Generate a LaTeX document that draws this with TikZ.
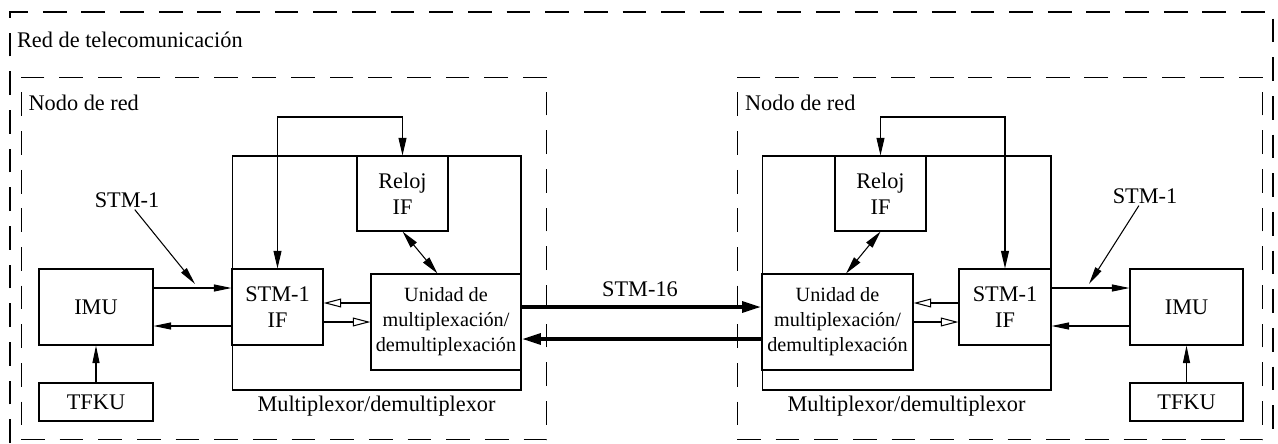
\documentclass[tikz,border=0pt]{standalone}
\usepackage{fontspec}
\setmainfont{Liberation Serif}
\usetikzlibrary{positioning}
\usetikzlibrary{arrows.meta}
\tikzset{
    boxn/.style = {rectangle, draw=black, line width=0.6pt, align=center, inner sep=0pt, font=\fontsize{12.7}{15}\selectfont},
    boxu/.style = {boxn, font=\fontsize{11.5}{14.2}\selectfont},
    txt/.style = {inner sep=1pt, font=\fontsize{12.7}{15}\selectfont},
    dframe/.style = {draw=black, line width=0.6pt, dash pattern=on 13.5pt off 8.5pt, inner sep=0pt},
    edgen/.style = {-{Triangle[length=10pt,width=4pt]}, line width=0.6pt},
    edged/.style = {{Triangle[length=10pt,width=4.5pt]}-{Triangle[length=10pt,width=4.5pt]}, line width=0.6pt},
    edgeo/.style = {-{Triangle[open,length=10pt,width=5pt]}, line width=0.6pt}, % mux <-> IF
    edget/.style = {-{Triangle[length=11pt,width=6pt]}, line width=2.3pt}, % STM-16
}

\begin{document}
\begin{tikzpicture}[x=0.02cm, y=-0.02cm]
\useasboundingbox (0,0) rectangle (1278,443);
% frames
\draw[dframe] (10,443) -- (10,12) -- (1273,12) -- (1273,443);
\node[txt, anchor=west] (red) at (15,40) {Red de telecomunicación};
\node[dframe, minimum width=10.52cm, minimum height=7.26cm] at (284,258.5) (nodoL) {};
\node[dframe, minimum width=10.52cm, minimum height=7.26cm] at (1000,258.5) (nodoR) {};
\node[txt, anchor=west] (nodoLt) at (26.5,103) {Nodo de red};
\node[txt, anchor=west] (nodoRt) at (743,103) {Nodo de red};
%
% left network node
\node[boxn, minimum width=5.78cm, minimum height=4.68cm, label={[txt, label distance=2pt]below:Multiplexor/demultiplexor}] at (376.5,273) (muxL) {};
\node[boxn, minimum width=2.28cm, minimum height=1.52cm] at (96,307) (imuL) {IMU};
\node[boxn, minimum width=2.28cm, minimum height=0.76cm] at (96,402) (tfkuL) {TFKU};
\node[boxn, minimum width=1.82cm, minimum height=1.52cm] at (277.5,307) (stmifL) {STM-1\\IF};
\node[boxn, minimum width=1.82cm, minimum height=1.5cm] at (402.5,193.5) (relojL) {Reloj\\IF};
\node[boxu, minimum width=3.0cm, minimum height=1.92cm] at (446,322) (unidadL) {Unidad de\\multiplexación/\\demultiplexación};
\node[txt] at (127,200) (stmL) {STM-1};
\coordinate (inL) at (195,284);
%
% right network node
\node[boxn, minimum width=5.78cm, minimum height=4.68cm, label={[txt, label distance=2pt]below:Multiplexor/demultiplexor}] at (906.5,273) (muxR) {};
\node[boxn, minimum width=2.26cm, minimum height=1.52cm] at (1186.5,307) (imuR) {IMU};
\node[boxn, minimum width=2.26cm, minimum height=0.76cm] at (1186.5,402) (tfkuR) {TFKU};
\node[boxn, minimum width=1.84cm, minimum height=1.52cm] at (1005,307) (stmifR) {STM-1\\IF};
\node[boxn, minimum width=1.82cm, minimum height=1.5cm] at (880.5,193.5) (relojR) {Reloj\\IF};
\node[boxu, minimum width=3.02cm, minimum height=1.92cm] at (837.5,322) (unidadR) {Unidad de\\multiplexación/\\demultiplexación};
\node[txt] at (1145,196) (stmR) {STM-1};
\coordinate (inR) at (1089,284);
\node[txt] at (640,289) (stm16) {STM-16};
%
\draw[edgen] (tfkuL.north) -- (imuL.south);
\draw[edgen] (imuL.east |- 0,288) -- (stmifL.west |- 0,288);
\draw[edgen] (stmifL.west |- 0,326) -- (imuL.east |- 0,326);
\draw[edgen] (stmL) -- (inL);
\draw[edged] (stmifL.north) |- (relojL.north |- 0,117) -- (relojL.north); % clock
\draw[edged] (relojL.south) -- (unidadL.100);
\draw[edgeo] (unidadL.west |- 0,303) -- (stmifL.east |- 0,303);
\draw[edgeo] (stmifL.east |- 0,322) -- (unidadL.west |- 0,322);
%
\draw[edget] (unidadL.east |- 0,307) -- (unidadR.west |- 0,307);
\draw[edget] (unidadR.west |- 0,339) -- (unidadL.east |- 0,339);
%
\draw[edgen] (tfkuR.north) -- (imuR.south);
\draw[edgen] (stmifR.east |- 0,288) -- (imuR.west |- 0,288);
\draw[edgen] (imuR.west |- 0,326) -- (stmifR.east |- 0,326);
\draw[edgen] (stmR) -- (inR);
\draw[edged] (relojR.north) |- (stmifR.north |- 0,117) -- (stmifR.north); % clock
\draw[edged] (relojR.south) -- (unidadR.80);
\draw[edgeo] (stmifR.west |- 0,303) -- (unidadR.east |- 0,303);
\draw[edgeo] (unidadR.east |- 0,322) -- (stmifR.west |- 0,322);
\end{tikzpicture}
\end{document}
